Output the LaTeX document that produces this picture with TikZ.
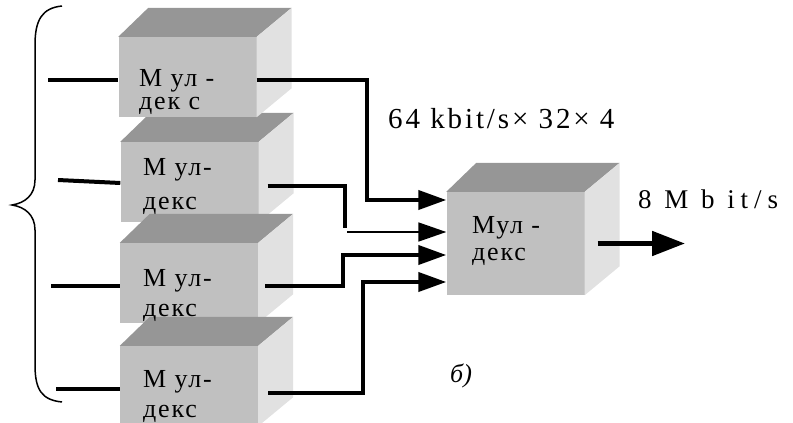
\documentclass[tikz,border=0pt]{standalone}
\usepackage{fontspec}
\setmainfont{Liberation Serif}
\usetikzlibrary{arrows.meta}
\definecolor{faceF}{RGB}{192,192,192}
\definecolor{topF}{RGB}{150,150,150}
\definecolor{sideF}{RGB}{225,225,225}
\begin{document}
\begin{tikzpicture}[x=1pt, y=-1pt, >={Triangle[length=28pt,width=19pt]},
    front/.style={fill=faceF, minimum width=138pt, inner sep=0pt},
    topf/.style={fill=topF},
    sidef/.style={fill=sideF},
    wire/.style={line width=4pt},
    thinwire/.style={line width=1.8pt},
    mtext/.style={anchor=north west, align=left, inner sep=0pt, font=\fontsize{26}{26}\selectfont\addfontfeatures{LetterSpace=7}},
    lbl/.style={anchor=base west, inner sep=0pt, font=\fontsize{29}{30}\selectfont\addfontfeatures{LetterSpace=10}}]
    \useasboundingbox (0,0) rectangle (793,423);

    % 1. 立方体 (绘制顺序决定遮挡)
    \foreach \n/\x/\y/\h in {b2/189.5/182/80, b1/187.5/77/80, b3/189/283/80, b4/189/386/80, mux/515.5/243.5/103} {
        \node[front, minimum height=\h pt] (\n) at (\x,\y) {};
        \fill[topf] (\n.north west) -- ++(30,-29) -- ([shift={(35,-29)}]\n.north east) -- (\n.north east) -- cycle;
        \fill[sidef] (\n.north east) -- ++(35,-29) -- ([shift={(35,-29)}]\n.south east) -- (\n.south east) -- cycle;
    }

    % 2. 文字
    \node[mtext] (t1) at (139,69) {М ул -\\[-3pt]дек с};
    \node[mtext] (t2) at (143,158) {М ул-\\[8pt]декс};
    \node[mtext] (t3) at (143,269) {М ул-\\[4pt]декс};
    \node[mtext] (t4) at (143,370) {М ул-\\[4pt]декс};
    \node[mtext] (tm) at (472,216) {Мул -\\[1pt]декс};
    \node[lbl] (rate1) at (388,128) {64 kbit/s× 32× 4};
    \node[lbl, font=\fontsize{27}{30}\selectfont\addfontfeatures{LetterSpace=22}] (rate2) at (638,208) {8 M b it/s};
    \node[lbl, font=\fontsize{26}{28}\selectfont\itshape] (sub) at (450,382) {б)};

    % 3. 输入端与大括号
    \coordinate (in1) at (48,80);
    \coordinate (in2) at (58,180);
    \coordinate (in3) at (51,286);
    \coordinate (in4) at (56,389);
    \draw[wire] (in1) -- ([yshift=-3pt]b1.west);
    \draw[wire] (in2) -- ([yshift=-1pt]b2.west);
    \draw[wire] (in3) -- ([yshift=-3pt]b3.west);
    \draw[wire] (in4) -- ([yshift=-3pt]b4.west);
    \draw[line width=1.5pt] (62,6) .. controls (42,8) and (35,20) .. (35,45) -- (35,180)
        .. controls (35,195) and (25,203) .. (12,205) .. controls (25,207) and (35,215) .. (35,230)
        -- (35,365) .. controls (35,390) and (42,400) .. (62,402);

    % 4. 汇聚到复用器
    \coordinate (a1) at ([yshift=43.5pt]mux.west);
    \coordinate (a2) at ([yshift=11.5pt]mux.west);
    \coordinate (a3) at ([yshift=-11.5pt]mux.west);
    \coordinate (a4) at ([yshift=-38.5pt]mux.west);
    \coordinate (k2) at (345,228);
    \coordinate (j2) at (347,232);
    \coordinate (out) at (685,243.5);
    \draw[wire, ->] ([yshift=-3pt]b1.east) -| ([xshift=-79pt]a1) -- (a1);
    \draw[wire] ([xshift=9pt, yshift=-4pt]b2.east) -| (k2);
    \draw[thinwire, ->] (j2) -- (a2);
    \draw[wire, ->] ([xshift=7pt, yshift=-3pt]b3.east) -| ([xshift=-103pt]a3) -- (a3);
    \draw[wire, ->] ([xshift=10pt, yshift=-7pt]b4.east) -| ([xshift=-83pt]a4) -- (a4);
    \draw[line width=5pt, -{Triangle[length=33pt,width=24pt]}] ([xshift=13pt]mux.east) -- (out);
\end{tikzpicture}
\end{document}
